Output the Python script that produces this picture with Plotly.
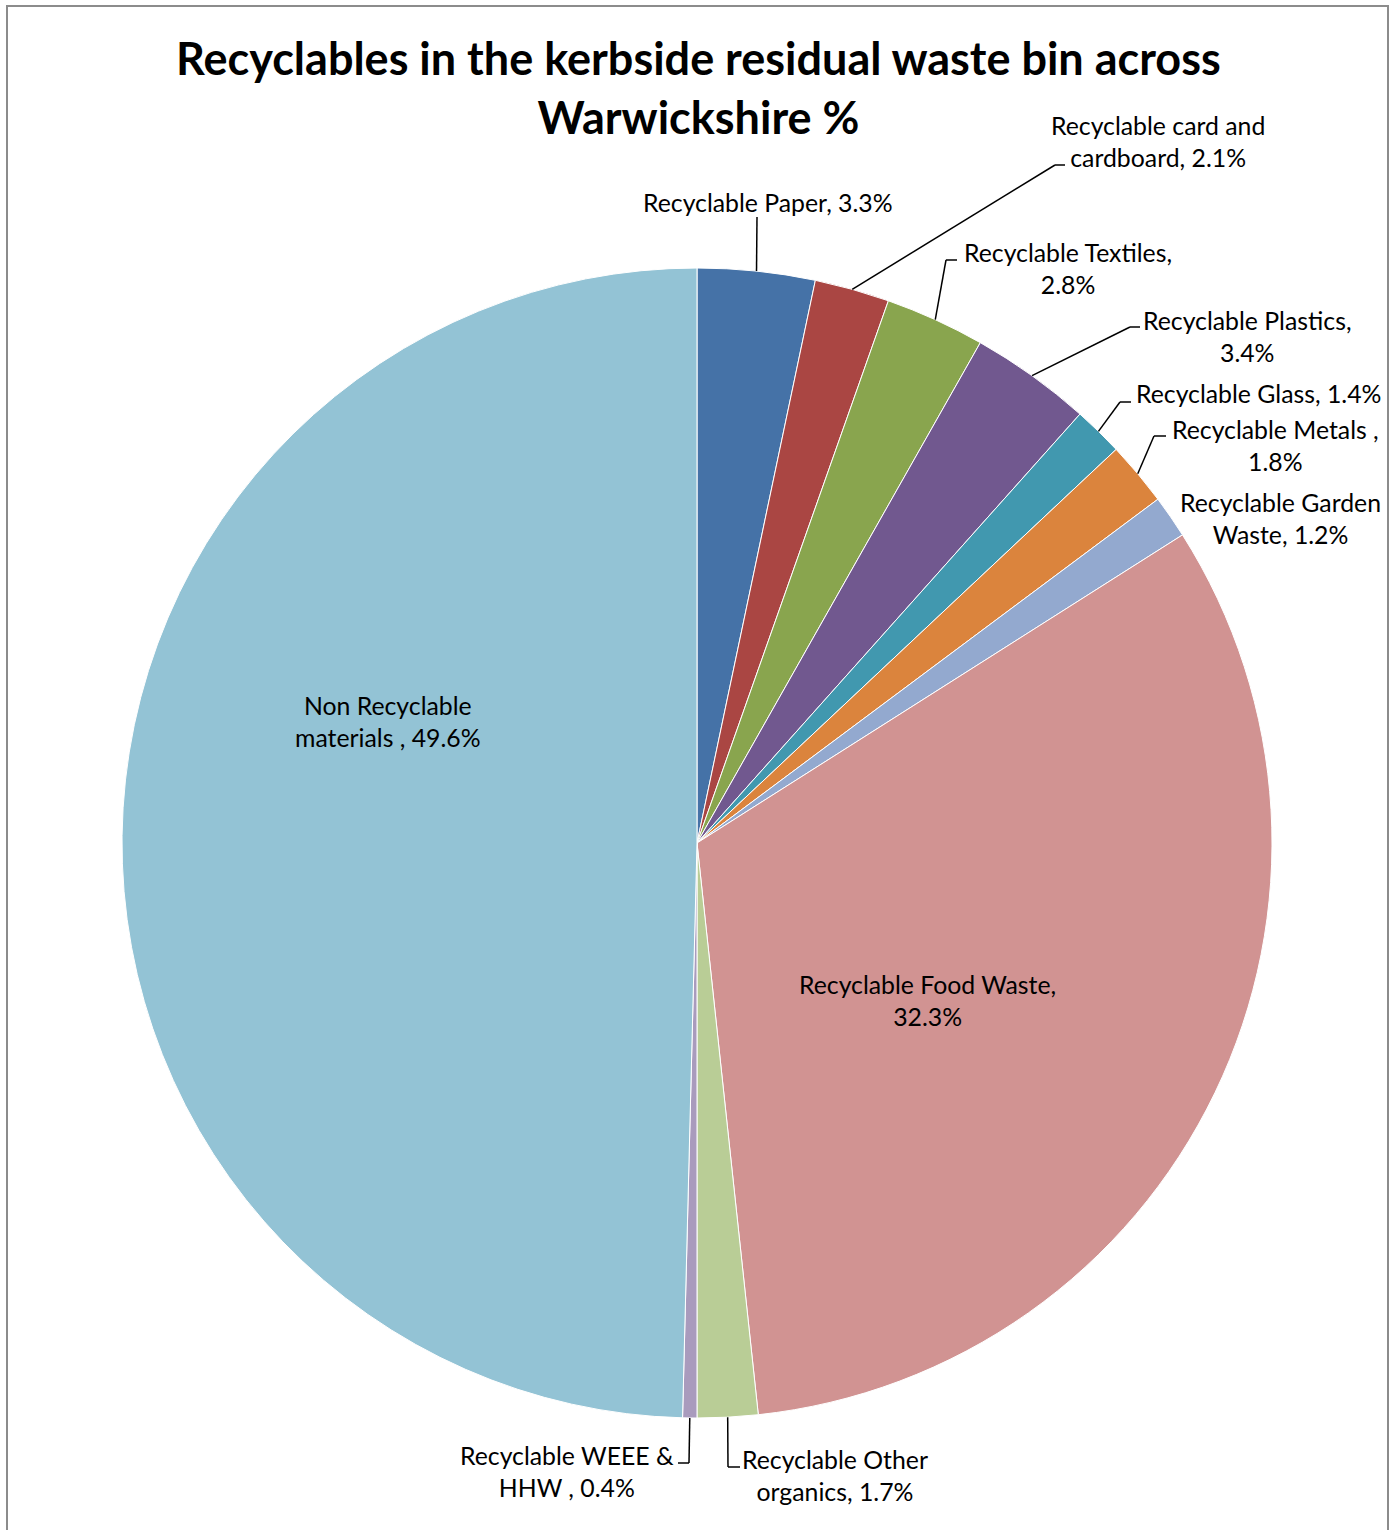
import math
import plotly.graph_objects as go

W, H = 1394, 1530

categories = [
    "Recyclable Paper", "Recyclable card and cardboard", "Recyclable Textiles",
    "Recyclable Plastics", "Recyclable Glass", "Recyclable Metals ",
    "Recyclable Garden Waste", "Recyclable Food Waste", "Recyclable Other organics",
    "Recyclable WEEE & HHW ", "Non Recyclable materials ",
]
values = [3.3, 2.1, 2.8, 3.4, 1.4, 1.8, 1.2, 32.3, 1.7, 0.4, 49.6]
label_texts = [
    "Recyclable Paper, 3.3%",
    "Recyclable card and<br>cardboard, 2.1%",
    "Recyclable Textiles,<br>2.8%",
    "Recyclable Plastics,<br>3.4%",
    "Recyclable Glass, 1.4%",
    "Recyclable Metals ,<br>1.8%",
    "Recyclable Garden<br>Waste, 1.2%",
    "Recyclable Food Waste,<br>32.3%",
    "Recyclable Other<br>organics, 1.7%",
    "Recyclable WEEE &<br>HHW , 0.4%",
    "Non Recyclable<br>materials , 49.6%",
]
colors = ["#4572A7", "#AA4643", "#89A54E", "#71588F", "#4198AF", "#DB843D",
          "#93A9CF", "#D19392", "#B9CD96", "#A99BBD", "#93C3D5"]

# layout: label centres (pixels) and leader-line elbows/ends (pixels)
CX, CY, R = 697, 843, 575
label_pos = [(768, 203), (1158, 141), (1068, 268), (1247, 336), (1258, 394),
             (1275, 445), (1280, 518), (928, 1000), (835, 1475), (567, 1471),
             (388, 721)]
elbows = [((757, 217), None), ((1055, 165), (1065, 165)), ((946, 260), (957, 260)),
          ((1130, 327), (1140, 327)), ((1120, 402), (1131, 402)),
          ((1154, 436), (1166, 436)), None, None,
          ((728, 1467), (740, 1467)), ((689, 1463), (678, 1463)), None]


def px(x, y):
    return x / W, 1 - y / H


fig = go.Figure(go.Pie(
    labels=categories, values=values, sort=False, direction="clockwise",
    rotation=0, textinfo="none", hoverinfo="label+percent",
    marker=dict(colors=colors, line=dict(color="white", width=1)),
    domain=dict(x=[(CX - R) / W, (CX + R) / W], y=[1 - (CY + R) / H, 1 - (CY - R) / H]),
    showlegend=False,
))

font = dict(family="Lato, Carlito, Calibri, sans-serif", size=24.8, color="black")
annotations = []
shapes = []
total = sum(values)
cum = 0
for i, v in enumerate(values):
    mid = (cum + v / 2) / total * 2 * math.pi
    cum += v
    lx, ly = label_pos[i]
    x, y = px(lx, ly)
    annotations.append(dict(x=x, y=y, xref="paper", yref="paper", text=label_texts[i],
                            showarrow=False, font=font, xanchor="center", yanchor="middle"))
    if elbows[i] is not None:
        ex, ey = CX + R * math.sin(mid), CY - R * math.cos(mid)
        pts = [(ex, ey), elbows[i][0]]
        if elbows[i][1] is not None:
            pts.append(elbows[i][1])
        for (a, b), (c, d) in zip(pts[:-1], pts[1:]):
            x0, y0 = px(a, b)
            x1, y1 = px(c, d)
            shapes.append(dict(type="line", xref="paper", yref="paper", x0=x0, y0=y0,
                               x1=x1, y1=y1, line=dict(color="black", width=1.5)))

tx, ty = px(W / 2 + 1, 87)
annotations.append(dict(x=tx, y=ty, xref="paper", yref="paper",
                        text="<b>Recyclables in the kerbside residual waste bin across<br>Warwickshire %</b>",
                        showarrow=False, xanchor="center", yanchor="middle",
                        font=dict(family="Lato, Carlito, Calibri, sans-serif", size=45, color="black")))

bx0, by0 = px(7, 6)
bx1, by1 = px(1388, 1540)
shapes.append(dict(type="rect", xref="paper", yref="paper", x0=bx0, y0=by1, x1=bx1, y1=by0,
                   line=dict(color="#8C8C8C", width=2)))

fig.update_layout(width=W, height=H, margin=dict(l=0, r=0, t=0, b=0),
                  paper_bgcolor="white", plot_bgcolor="white",
                  annotations=annotations, shapes=shapes)
fig.write_html("out.html", config={"displayModeBar": False},
               post_script="document.body.style.margin='0';document.body.style.overflow='hidden';")
